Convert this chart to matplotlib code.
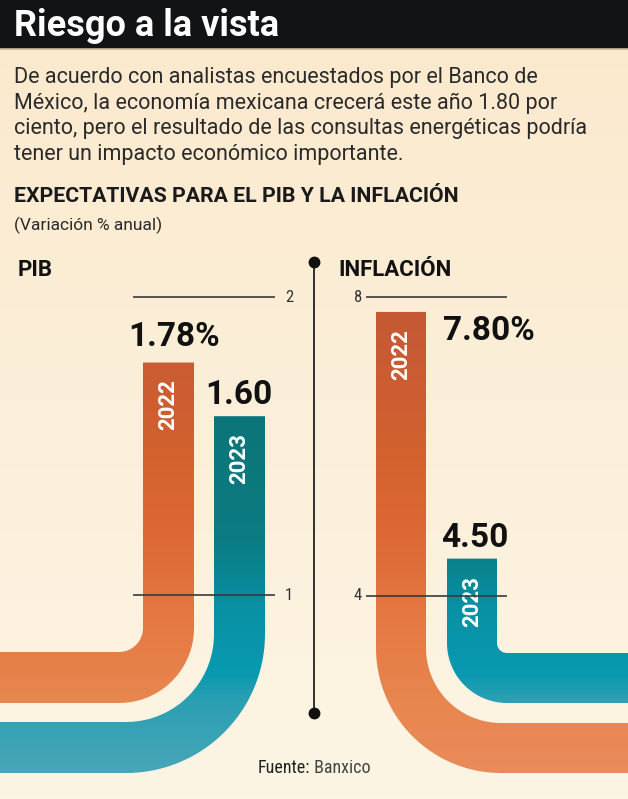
import numpy as np
import matplotlib.pyplot as plt
from matplotlib.path import Path
from matplotlib.patches import PathPatch
from matplotlib.colors import LinearSegmentedColormap

# datos (Banxico)
years = ['2022', '2023']
pib = [1.78, 1.60]
pib_labels = ['1.78%', '1.60']
inflacion = [7.80, 4.50]
inflacion_labels = ['7.80%', '4.50']
pib_ticks = [2, 1]
inflacion_ticks = [8, 4]

title = 'Riesgo a la vista'
body = ['De acuerdo con analistas encuestados por el Banco de',
        'México, la economía mexicana crecerá este año 1.80 por',
        'ciento, pero el resultado de las consultas energéticas podría',
        'tener un impacto económico importante.']
subtitle = 'EXPECTATIVAS PARA EL PIB Y LA INFLACIÓN'
units = '(Variación % anual)'

NARROW = ['Liberation Sans Narrow', 'Roboto Condensed', 'Roboto']
BOLD = ['Roboto', 'DejaVu Sans']

W, H = 628, 799
fig = plt.figure(figsize=(W / 100, H / 100), dpi=100)
ax = fig.add_axes([0, 0, 1, 1])


def grad_cmap(stops):
    return LinearSegmentedColormap.from_list('g', [(y / H, c) for y, c in stops])


orange = grad_cmap([(0, '#c2572f'), (330, '#c65a35'), (450, '#d3612f'),
                    (540, '#dd6935'), (620, '#e57843'), (700, '#e8864f'),
                    (799, '#e98c5e')])
teal = grad_cmap([(0, '#0a6c72'), (420, '#0b7579'), (540, '#0b7c82'),
                  (610, '#0891a5'), (675, '#0899b0'), (700, '#2a9fb3'),
                  (760, '#42a5b7'), (799, '#4da9b9')])
cream = grad_cmap([(0, '#fbe9cc'), (400, '#fcefd9'), (799, '#fdf5e4')])

grad = np.linspace(0, 1, 400).reshape(-1, 1)
ax.imshow(grad, cmap=cream, extent=(0, W, H, 0), origin='upper',
          aspect='auto', zorder=0)
ax.add_patch(plt.Rectangle((0, 0), W, 48, color='#111315', zorder=1))
ax.axhline(49, color='#cdbb9c', lw=1.2, zorder=1)

# paneles con la escala de valores
ax_pib = fig.add_axes([0, (H - 595) / H, 314 / W, 298 / H])
ax_pib.set_xlim(0, 314)
ax_pib.set_ylim(1, 2)
ax_inf = fig.add_axes([314 / W, (H - 596) / H, 314 / W, 299 / H])
ax_inf.set_xlim(314, 628)
ax_inf.set_ylim(4, 8)
for a in (ax_pib, ax_inf):
    a.axis('off')
    a.patch.set_alpha(0)


def to_px(a, value):
    disp = a.transData.transform((0, value))
    return ax.transData.inverted().transform(disp)[1]


def pipe(y_top, cx, cy, r, R, side, x_end):
    # side = 1 curva hacia la izquierda, -1 hacia la derecha
    t = np.linspace(0, np.pi / 2, 40)
    inner = np.column_stack([cx + side * r * np.cos(t), cy + r * np.sin(t)])
    outer = np.column_stack([cx + side * R * np.cos(t), cy + R * np.sin(t)])
    pts = [(cx + side * r, y_top), (cx + side * R, y_top)]
    pts += list(map(tuple, outer))
    pts += [(x_end, cy + R), (x_end, cy + r)]
    pts += list(map(tuple, inner[::-1]))
    pts.append(pts[0])
    return Path(pts, closed=True)


def draw_pipe(path, cmap):
    patch = PathPatch(path, facecolor='none', edgecolor='none')
    ax.add_patch(patch)
    im = ax.imshow(grad, cmap=cmap, extent=(0, W, H, 0), origin='upper',
                   aspect='auto', zorder=2)
    im.set_clip_path(patch)


# geometry of each pipe: centre of bend, inner and outer radius
pib_geom = [(119, 628, 24, 75), (126, 634, 88, 139)]
inf_geom = [(501, 648, 75, 125), (507, 643, 10, 60)]
cmaps = [orange, teal]

pib_tops = []
for (cx, cy, r, R), v, cm in zip(pib_geom, pib, cmaps):
    top = to_px(ax_pib, v)
    pib_tops.append(top)
    draw_pipe(pipe(top, cx, cy, r, R, 1, -10), cm)

inf_tops = []
for (cx, cy, r, R), v, cm in zip(inf_geom, inflacion, cmaps):
    top = to_px(ax_inf, v)
    inf_tops.append(top)
    draw_pipe(pipe(top, cx, cy, r, R, -1, W + 10), cm)

# year labels inside bars
for (cx, cy, r, R), top, yr in zip(pib_geom, pib_tops, years):
    ax.text(cx + (r + R) / 2, top + 17, yr, rotation=90, ha='center',
            va='top', color='white', fontsize=16, fontweight='bold',
            family=BOLD, zorder=4)
for (cx, cy, r, R), top, yr in zip(inf_geom, inf_tops, years):
    ax.text(cx - (r + R) / 2, top + 17, yr, rotation=90, ha='center',
            va='top', color='white', fontsize=16, fontweight='bold',
            family=BOLD, zorder=4)

# value labels
ax.text(174, pib_tops[0] - 17, pib_labels[0], ha='center', va='baseline',
        fontsize=24, fontweight='bold', family=BOLD, color='#111', zorder=4)
ax.text(239, pib_tops[1] - 12, pib_labels[1], ha='center', va='baseline',
        fontsize=24, fontweight='bold', family=BOLD, color='#111', zorder=4)
ax.text(443, inf_tops[0] + 28, inflacion_labels[0], ha='left',
        va='baseline', fontsize=24, fontweight='bold', family=BOLD,
        color='#111', zorder=4)
ax.text(475, inf_tops[1] - 12, inflacion_labels[1], ha='center',
        va='baseline', fontsize=24, fontweight='bold', family=BOLD,
        color='#111', zorder=4)

# reference lines
ax_pib.hlines(pib_ticks, 133, 275, color='#3a3a3a', lw=1.2, zorder=5,
              clip_on=False)
for v in pib_ticks:
    ax_pib.text(289, v, str(v), ha='center', va='center', fontsize=12,
                color='#333', family=NARROW, clip_on=False)
ax_inf.hlines(inflacion_ticks, 366, 507, color='#3a3a3a', lw=1.2, zorder=5,
              clip_on=False)
for v in inflacion_ticks:
    ax_inf.text(358, v, str(v), ha='center', va='center', fontsize=12,
                color='#333', family=NARROW, clip_on=False)

# divider
ax.plot([314, 314], [262, 713], color='#222', lw=1.3, zorder=3)
ax.plot([314, 314], [262, 713], 'o', color='#111', ms=7.5, zorder=3)

# texts
ax.text(14, 36, title, color='white', fontsize=26, fontweight='bold',
        family=BOLD, va='baseline', zorder=4)
for i, line in enumerate(body):
    ax.text(14, 83 + i * 25.7, line, color='#2a2a2a', fontsize=15.5,
            family=BOLD, va='baseline', zorder=4)
ax.text(14, 202, subtitle, color='#1a1a1a', fontsize=15.3, fontweight='bold',
        family=BOLD, va='baseline', zorder=4)
ax.text(14, 230, units, color='#2a2a2a', fontsize=12.5, family=BOLD,
        va='baseline', zorder=4)
ax.text(18, 276, 'PIB', color='#111', fontsize=16, fontweight='bold',
        family=BOLD, va='baseline', zorder=4)
ax.text(338, 276, 'INFLACIÓN', color='#111', fontsize=16, fontweight='bold',
        family=BOLD, va='baseline', zorder=4)
t1 = ax.text(258, 773, 'Fuente:', color='#222', fontsize=13,
             family=NARROW, va='baseline', zorder=4)
ax.annotate(' Banxico', xy=(1, 0), xycoords=t1, va='bottom', ha='left',
            color='#444', fontsize=13, family=NARROW, zorder=4)

ax.set_xlim(0, W)
ax.set_ylim(H, 0)
ax.axis('off')

fig.savefig('out.png', dpi=100)
